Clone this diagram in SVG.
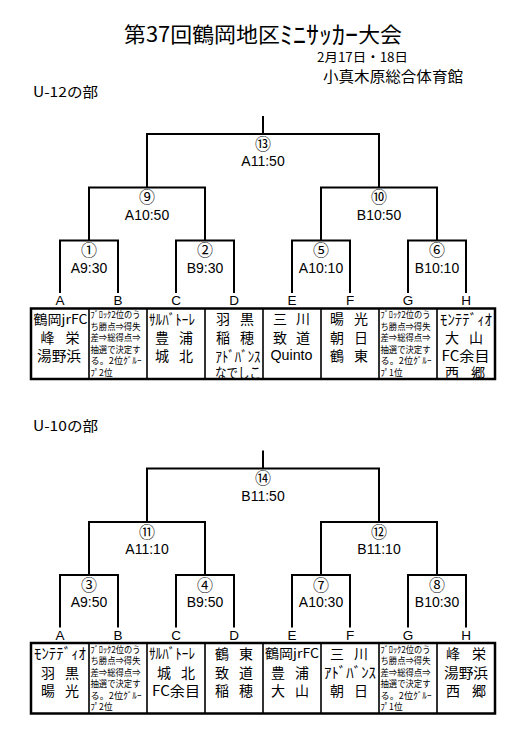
<svg xmlns="http://www.w3.org/2000/svg" width="522" height="733" viewBox="0 0 522 733">
<style>
text{font-family:"Liberation Sans","Noto Sans CJK JP",sans-serif;fill:#000;dominant-baseline:central}
.jp{font-family:"Noto Sans CJK JP",sans-serif}
.title{font-size:21px}
.sub{font-size:12.5px}
.ven{font-size:14.5px}
.sec{font-size:14px}
.num{font-family:"Noto Sans CJK JP",sans-serif;font-size:16px;text-anchor:middle}
.time{font-size:14px;text-anchor:middle}
.let{font-size:13.5px;text-anchor:middle}
.nm{font-family:"Noto Sans CJK JP",sans-serif;font-size:14px;text-anchor:middle}
.sm{font-family:"Noto Sans CJK JP",sans-serif;font-size:13px;text-anchor:middle}
.kt{font-family:"Noto Sans CJK JP",sans-serif;font-size:15px;text-anchor:middle}
.rule{font-family:"Noto Sans CJK JP",sans-serif;font-size:9px}
.br{fill:none;stroke:#000;stroke-width:2}
.box{fill:#fff;stroke:#000;stroke-width:2.5}
.div{stroke:#000;stroke-width:1.6}
</style>
<rect width="522" height="733" fill="#fff"/>
<g id="header">
<text class="title jp" x="124" y="33" textLength="278" lengthAdjust="spacingAndGlyphs">第37回鶴岡地区<tspan font-size="25">ﾐﾆｻｯｶｰ</tspan>大会</text>
<text class="sub jp" x="317" y="56" textLength="91" lengthAdjust="spacingAndGlyphs">2月17日・18日</text>
<text class="ven jp" x="323" y="75.5" textLength="140" lengthAdjust="spacingAndGlyphs">小真木原総合体育館</text>
<text class="sec jp" x="33" y="91" textLength="65" lengthAdjust="spacingAndGlyphs">U-12の部</text>
<text class="sec jp" x="33" y="425" textLength="65" lengthAdjust="spacingAndGlyphs">U-10の部</text>
</g>
<g id="connectors">
<path class="br" d="M263,116V134M147,187.5V134H379V187.5M89,240.5V187.5H205V240.5M321,240.5V187.5H437V240.5M60,293V240.5H118V293M176,293V240.5H234V293M292,293V240.5H350V293M408,293V240.5H466V293"/>
<path class="br" d="M263,450.5V468.5M147,522V468.5H379V522M89,575V522H205V575M321,575V522H437V575M60,627.5V575H118V627.5M176,627.5V575H234V627.5M292,627.5V575H350V627.5M408,627.5V575H466V627.5"/>
</g>
<g id="m13"><text class="num" x="263" y="142.7">⑬</text><text class="time" x="263" y="161">A11:50</text></g>
<g id="m9"><text class="num" x="147" y="196.2">⑨</text><text class="time" x="147" y="214.5">A10:50</text></g>
<g id="m10"><text class="num" x="379" y="196.2">⑩</text><text class="time" x="379" y="214.5">B10:50</text></g>
<g id="m1"><text class="num" x="89" y="249.2">①</text><text class="time" x="89" y="267.5">A9:30</text></g>
<g id="m2"><text class="num" x="205" y="249.2">②</text><text class="time" x="205" y="267.5">B9:30</text></g>
<g id="m5"><text class="num" x="321" y="249.2">⑤</text><text class="time" x="321" y="267.5">A10:10</text></g>
<g id="m6"><text class="num" x="437" y="249.2">⑥</text><text class="time" x="437" y="267.5">B10:10</text></g>
<g id="m14"><text class="num" x="263" y="477.2">⑭</text><text class="time" x="263" y="495.5">B11:50</text></g>
<g id="m11"><text class="num" x="147" y="530.7">⑪</text><text class="time" x="147" y="549">A11:10</text></g>
<g id="m12"><text class="num" x="379" y="530.7">⑫</text><text class="time" x="379" y="549">B11:10</text></g>
<g id="m3"><text class="num" x="89" y="583.7">③</text><text class="time" x="89" y="602">A9:50</text></g>
<g id="m4"><text class="num" x="205" y="583.7">④</text><text class="time" x="205" y="602">B9:50</text></g>
<g id="m7"><text class="num" x="321" y="583.7">⑦</text><text class="time" x="321" y="602">A10:30</text></g>
<g id="m8"><text class="num" x="437" y="583.7">⑧</text><text class="time" x="437" y="602">B10:30</text></g>
<g id="u12-table">
<rect class="box" x="31" y="308.5" width="464" height="70.5"/>
<path class="div" d="M89,308.5V379M147,308.5V379M205,308.5V379M263,308.5V379M321,308.5V379M379,308.5V379M437,308.5V379"/>
</g>
<g id="u12-A"><text class="let" x="60" y="300.5">A</text>
<text class="sm" x="60.5" y="318" textLength="54" lengthAdjust="spacingAndGlyphs">鶴岡jrFC</text>
<text class="nm" x="60" y="337" textLength="39" lengthAdjust="spacing">峰　栄</text>
<text class="nm" x="59" y="355" textLength="44" lengthAdjust="spacingAndGlyphs">湯野浜</text></g>
<g id="u12-B"><text class="let" x="118" y="300.5">B</text>
<text class="rule" x="90.5" y="314.5" textLength="50" lengthAdjust="spacingAndGlyphs">ﾌﾞﾛｯｸ2位のう</text>
<text class="rule" x="90.5" y="326" textLength="50" lengthAdjust="spacingAndGlyphs">ち勝点⇒得失</text>
<text class="rule" x="90.5" y="337.5" textLength="50" lengthAdjust="spacingAndGlyphs">差⇒総得点⇒</text>
<text class="rule" x="90.5" y="349" textLength="50" lengthAdjust="spacingAndGlyphs">抽選で決定す</text>
<text class="rule" x="90.5" y="360.5" textLength="51" lengthAdjust="spacingAndGlyphs">る。2位ｸﾞﾙｰ</text>
<text class="rule" x="90.5" y="372" textLength="22" lengthAdjust="spacingAndGlyphs">ﾌﾟ2位</text></g>
<g id="u12-C"><text class="let" x="176" y="300.5">C</text>
<text class="kt" x="172" y="318" textLength="46" lengthAdjust="spacingAndGlyphs">ｻﾙﾊﾞﾄｰﾚ</text>
<text class="nm" x="174" y="337" textLength="38" lengthAdjust="spacing">豊　浦</text>
<text class="nm" x="174" y="355" textLength="38" lengthAdjust="spacing">城　北</text></g>
<g id="u12-D"><text class="let" x="234" y="300.5">D</text>
<text class="nm" x="235" y="318" textLength="38" lengthAdjust="spacing">羽　黒</text>
<text class="nm" x="235" y="337" textLength="38" lengthAdjust="spacing">稲　穂</text>
<text class="kt" x="238" y="355" textLength="45" lengthAdjust="spacingAndGlyphs">ｱﾄﾞﾊﾞﾝｽ</text>
<text class="nm" x="238" y="372" textLength="46" lengthAdjust="spacingAndGlyphs">なでしこ</text></g>
<g id="u12-E"><text class="let" x="292" y="300.5">E</text>
<text class="nm" x="291.5" y="318" textLength="37" lengthAdjust="spacing">三　川</text>
<text class="nm" x="291.5" y="337" textLength="37" lengthAdjust="spacing">致　道</text>
<text class="nm" x="291.5" y="355" textLength="42" lengthAdjust="spacingAndGlyphs" style="font-family:'Liberation Sans',sans-serif">Quinto</text></g>
<g id="u12-F"><text class="let" x="350" y="300.5">F</text>
<text class="nm" x="349" y="318" textLength="38" lengthAdjust="spacing">暘　光</text>
<text class="nm" x="349" y="337" textLength="38" lengthAdjust="spacing">朝　日</text>
<text class="nm" x="349" y="355" textLength="38" lengthAdjust="spacing">鶴　東</text></g>
<g id="u12-G"><text class="let" x="408" y="300.5">G</text>
<text class="rule" x="380.5" y="314.5" textLength="50" lengthAdjust="spacingAndGlyphs">ﾌﾞﾛｯｸ2位のう</text>
<text class="rule" x="380.5" y="326" textLength="50" lengthAdjust="spacingAndGlyphs">ち勝点⇒得失</text>
<text class="rule" x="380.5" y="337.5" textLength="50" lengthAdjust="spacingAndGlyphs">差⇒総得点⇒</text>
<text class="rule" x="380.5" y="349" textLength="50" lengthAdjust="spacingAndGlyphs">抽選で決定す</text>
<text class="rule" x="380.5" y="360.5" textLength="51" lengthAdjust="spacingAndGlyphs">る。2位ｸﾞﾙｰ</text>
<text class="rule" x="380.5" y="372" textLength="22" lengthAdjust="spacingAndGlyphs">ﾌﾟ1位</text></g>
<g id="u12-H"><text class="let" x="466" y="300.5">H</text>
<text class="kt" x="466" y="318" textLength="52" lengthAdjust="spacingAndGlyphs">ﾓﾝﾃﾃﾞｨｵ</text>
<text class="nm" x="464" y="337" textLength="38" lengthAdjust="spacing">大　山</text>
<text class="nm" x="465.5" y="355" textLength="48" lengthAdjust="spacingAndGlyphs">FC余目</text>
<text class="nm" x="465" y="372" textLength="40" lengthAdjust="spacing">西　郷</text></g>
<g id="u10-table">
<rect class="box" x="31" y="643" width="464" height="70.5"/>
<path class="div" d="M89,643V713.5M147,643V713.5M205,643V713.5M263,643V713.5M321,643V713.5M379,643V713.5M437,643V713.5"/>
</g>
<g id="u10-A"><text class="let" x="60" y="635">A</text>
<text class="kt" x="60" y="652.5" textLength="52" lengthAdjust="spacingAndGlyphs">ﾓﾝﾃﾃﾞｨｵ</text>
<text class="nm" x="60" y="671.5" textLength="38" lengthAdjust="spacing">羽　黒</text>
<text class="nm" x="60" y="689.5" textLength="38" lengthAdjust="spacing">暘　光</text></g>
<g id="u10-B"><text class="let" x="118" y="635">B</text>
<text class="rule" x="90.5" y="649" textLength="50" lengthAdjust="spacingAndGlyphs">ﾌﾞﾛｯｸ2位のう</text>
<text class="rule" x="90.5" y="660.5" textLength="50" lengthAdjust="spacingAndGlyphs">ち勝点⇒得失</text>
<text class="rule" x="90.5" y="672" textLength="50" lengthAdjust="spacingAndGlyphs">差⇒総得点⇒</text>
<text class="rule" x="90.5" y="683.5" textLength="50" lengthAdjust="spacingAndGlyphs">抽選で決定す</text>
<text class="rule" x="90.5" y="695" textLength="51" lengthAdjust="spacingAndGlyphs">る。2位ｸﾞﾙｰ</text>
<text class="rule" x="90.5" y="706.5" textLength="22" lengthAdjust="spacingAndGlyphs">ﾌﾟ2位</text></g>
<g id="u10-C"><text class="let" x="176" y="635">C</text>
<text class="kt" x="172" y="652.5" textLength="46" lengthAdjust="spacingAndGlyphs">ｻﾙﾊﾞﾄｰﾚ</text>
<text class="nm" x="176" y="671.5" textLength="38" lengthAdjust="spacing">城　北</text>
<text class="nm" x="176" y="689.5" textLength="48" lengthAdjust="spacingAndGlyphs">FC余目</text></g>
<g id="u10-D"><text class="let" x="234" y="635">D</text>
<text class="nm" x="234" y="652.5" textLength="38" lengthAdjust="spacing">鶴　東</text>
<text class="nm" x="234" y="671.5" textLength="38" lengthAdjust="spacing">致　道</text>
<text class="nm" x="234" y="689.5" textLength="38" lengthAdjust="spacing">稲　穂</text></g>
<g id="u10-E"><text class="let" x="292" y="635">E</text>
<text class="sm" x="292" y="652.5" textLength="54" lengthAdjust="spacingAndGlyphs">鶴岡jrFC</text>
<text class="nm" x="290" y="671.5" textLength="38" lengthAdjust="spacing">豊　浦</text>
<text class="nm" x="290" y="689.5" textLength="38" lengthAdjust="spacing">大　山</text></g>
<g id="u10-F"><text class="let" x="350" y="635">F</text>
<text class="nm" x="349" y="652.5" textLength="38" lengthAdjust="spacing">三　川</text>
<text class="kt" x="350" y="671.5" textLength="52" lengthAdjust="spacingAndGlyphs">ｱﾄﾞﾊﾞﾝｽ</text>
<text class="nm" x="349" y="689.5" textLength="38" lengthAdjust="spacing">朝　日</text></g>
<g id="u10-G"><text class="let" x="408" y="635">G</text>
<text class="rule" x="380.5" y="649" textLength="50" lengthAdjust="spacingAndGlyphs">ﾌﾞﾛｯｸ2位のう</text>
<text class="rule" x="380.5" y="660.5" textLength="50" lengthAdjust="spacingAndGlyphs">ち勝点⇒得失</text>
<text class="rule" x="380.5" y="672" textLength="50" lengthAdjust="spacingAndGlyphs">差⇒総得点⇒</text>
<text class="rule" x="380.5" y="683.5" textLength="50" lengthAdjust="spacingAndGlyphs">抽選で決定す</text>
<text class="rule" x="380.5" y="695" textLength="51" lengthAdjust="spacingAndGlyphs">る。2位ｸﾞﾙｰ</text>
<text class="rule" x="380.5" y="706.5" textLength="22" lengthAdjust="spacingAndGlyphs">ﾌﾟ1位</text></g>
<g id="u10-H"><text class="let" x="466" y="635">H</text>
<text class="nm" x="466" y="652.5" textLength="40" lengthAdjust="spacing">峰　栄</text>
<text class="nm" x="466" y="671.5" textLength="44" lengthAdjust="spacingAndGlyphs">湯野浜</text>
<text class="nm" x="466" y="689.5" textLength="40" lengthAdjust="spacing">西　郷</text></g>
</svg>
